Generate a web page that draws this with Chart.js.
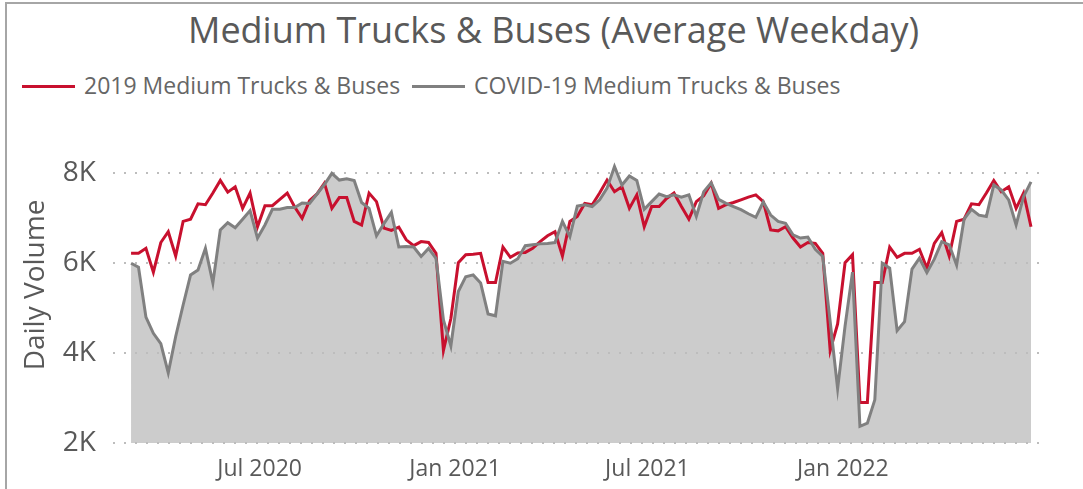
<!DOCTYPE html>
<html>
<head>
<meta charset="utf-8">
<script src="https://cdn.jsdelivr.net/npm/chart.js@4.4.1/dist/chart.umd.min.js"></script>
<style>
  html, body { margin: 0; padding: 0; background: #fff; overflow: hidden; }
  #wrap { position: relative; width: 1083px; height: 489px; font-family: "Open Sans", sans-serif; }
  #frame { position: absolute; left: 5px; top: 2px; width: 2000px; height: 2000px;
           border-left: 2px solid #a6a6a6; border-top: 2px solid #a6a6a6; }
  #title { position: absolute; left: 188px; top: 5px; font-size: 36px; color: #595959; white-space: nowrap; }
  .key { position: absolute; top: 85px; width: 53px; height: 3px; }
  .keyText { position: absolute; top: 69px; font-size: 23px; color: #666; white-space: nowrap; }
  canvas { position: absolute; left: 0; top: 0; }
</style>
</head>
<body>
<div id="wrap">
  <div id="frame"></div>
  <div id="title">Medium Trucks &amp; Buses (Average Weekday)</div>
  <div class="key" style="left:22px;background:#c8102e"></div>
  <div class="keyText" style="left:84px">2019 Medium Trucks &amp; Buses</div>
  <div class="key" style="left:412px;background:#808080"></div>
  <div class="keyText" style="left:474px">COVID-19 Medium Trucks &amp; Buses</div>
  <canvas id="chart" width="1083" height="489"></canvas>
</div>
<script>
// weekly observations, first week starting 2 Mar 2020
var firstWeek = '2020-03-02';
var weekCount = 122;

// values in thousands of vehicles per average weekday
var baseline2019 = [
  6.22, 6.22, 6.33, 5.80, 6.46, 6.70, 6.16, 6.93, 6.98, 7.32,
  7.30, 7.56, 7.84, 7.58, 7.70, 7.22, 7.56, 6.81, 7.28, 7.28,
  7.42, 7.56, 7.25, 7.00, 7.39, 7.54, 7.78, 7.22, 7.46, 7.46,
  6.93, 6.85, 7.56, 7.37, 6.78, 6.73, 6.80, 6.52, 6.39, 6.48,
  6.46, 6.22, 4.06, 4.77, 6.01, 6.19, 6.20, 6.22, 5.57, 5.57,
  6.36, 6.13, 6.23, 6.24, 6.33, 6.48, 6.61, 6.70, 6.16, 6.93,
  7.04, 7.33, 7.30, 7.56, 7.85, 7.59, 7.70, 7.22, 7.52, 6.81,
  7.26, 7.26, 7.44, 7.56, 7.26, 6.98, 7.37, 7.50, 7.78, 7.22,
  7.30, 7.35, 7.41, 7.47, 7.52, 7.37, 6.74, 6.72, 6.81, 6.56,
  6.36, 6.46, 6.44, 6.22, 4.06, 4.65, 6.01, 6.19, 2.90, 2.90,
  5.57, 5.57, 6.36, 6.13, 6.22, 6.22, 6.31, 5.89, 6.44, 6.68,
  6.16, 6.93, 6.98, 7.32, 7.30, 7.56, 7.84, 7.59, 7.70, 7.22,
  7.56, 6.81
];
var covid19 = [
  6.00, 5.91, 4.80, 4.44, 4.21, 3.56, 4.37, 5.07, 5.74, 5.85,
  6.33, 5.56, 6.74, 6.90, 6.79, 6.98, 7.17, 6.56, 6.85, 7.20,
  7.20, 7.24, 7.24, 7.34, 7.33, 7.54, 7.75, 8.00, 7.85, 7.88,
  7.84, 7.35, 7.22, 6.61, 6.88, 7.13, 6.36, 6.37, 6.36, 6.15,
  6.33, 6.11, 4.74, 4.16, 5.37, 5.70, 5.74, 5.56, 4.87, 4.83,
  6.04, 6.00, 6.10, 6.39, 6.41, 6.43, 6.44, 6.46, 6.93, 6.59,
  7.27, 7.30, 7.26, 7.41, 7.67, 8.15, 7.74, 7.94, 7.84, 7.20,
  7.37, 7.54, 7.48, 7.52, 7.47, 7.52, 7.04, 7.59, 7.79, 7.42,
  7.33, 7.26, 7.19, 7.10, 7.02, 7.36, 7.07, 6.93, 6.89, 6.63,
  6.56, 6.58, 6.31, 6.15, 4.70, 3.21, 4.60, 5.80, 2.37, 2.44,
  2.96, 6.00, 5.89, 4.50, 4.70, 5.87, 6.11, 5.79, 6.09, 6.48,
  6.41, 5.96, 6.98, 7.20, 7.07, 7.04, 7.74, 7.63, 7.41, 6.85,
  7.48, 7.81
];

var yTicks = [2, 4, 6, 8];
var xTickDates = ['2020-07-01', '2021-01-01', '2021-07-01', '2022-01-01'];
var xTickLabels = ['Jul 2020', 'Jan 2021', 'Jul 2021', 'Jan 2022'];

var DAY = 86400000;
function dayOffset(s) {
    return Math.round((Date.parse(s) - Date.parse(firstWeek)) / DAY);
}

var weekDays = [];
for (var i = 0; i < weekCount; i++) weekDays.push(i * 7);

function toPoints(values) {
    return values.map(function(v, i) { return { x: weekDays[i], y: v }; });
}

var xTickValues = xTickDates.map(dayOffset);
var textColor = '#595959';

new Chart(document.getElementById('chart'), {
    type: 'line',
    data: {
        datasets: [
            {
                label: '2019 Medium Trucks & Buses',
                data: toPoints(baseline2019),
                borderColor: '#c8102e',
                borderWidth: 3,
                pointRadius: 0,
                fill: false,
                tension: 0,
                order: 1,
            },
            {
                label: 'COVID-19 Medium Trucks & Buses',
                data: toPoints(covid19),
                borderColor: '#808080',
                backgroundColor: '#cccccc',
                borderWidth: 3,
                pointRadius: 0,
                fill: 'start',
                tension: 0,
                order: 0,
            },
        ],
    },
    options: {
        responsive: false,
        animation: false,
        layout: { padding: { top: 127, right: 40, left: 0, bottom: 0 } },
        plugins: {
            legend: { display: false },
            tooltip: { enabled: false },
            // area first, so the dotted grid shows through it
            filler: { drawTime: 'beforeDraw' },
        },
        scales: {
            x: {
                type: 'linear',
                min: -17,
                max: 858.3,
                grid: { display: false },
                border: { display: false },
                afterFit: function(scale) { scale.height = 46; },
                afterBuildTicks: function(scale) {
                    scale.ticks = xTickValues.map(function(v) { return { value: v }; });
                },
                ticks: {
                    autoSkip: false,
                    maxRotation: 0,
                    padding: 5,
                    color: textColor,
                    font: { family: 'Open Sans', size: 23 },
                    callback: function(value) {
                        var k = xTickValues.indexOf(value);
                        return k >= 0 ? xTickLabels[k] : '';
                    },
                },
            },
            y: {
                min: 2,
                max: 9.03,
                border: { display: false, dash: [2, 9] },
                grid: {
                    color: '#bdbdbd',
                    lineWidth: 2,
                    drawTicks: false,
                },
                afterFit: function(scale) { scale.width = 113; },
                afterBuildTicks: function(scale) {
                    scale.ticks = yTicks.map(function(v) { return { value: v }; });
                },
                ticks: {
                    padding: 17,
                    color: textColor,
                    font: { family: 'Open Sans', size: 28 },
                    callback: function(value) { return value + 'K'; },
                },
                title: {
                    display: true,
                    text: 'Daily Volume',
                    color: textColor,
                    padding: { top: 19, bottom: 0 },
                    font: { family: 'Open Sans', size: 28 },
                },
            },
        },
    },
});
</script>
</body>
</html>
